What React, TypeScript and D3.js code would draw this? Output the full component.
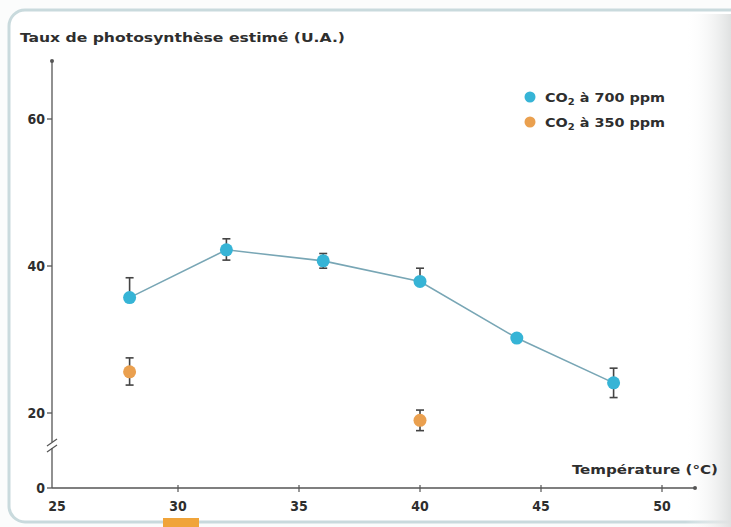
import React from "react";
import * as d3 from "d3";

// CO2 at 700 ppm
const temps700 = [28, 32, 36, 40, 44, 48];
const vals700 = [35.7, 42.2, 40.7, 37.9, 30.2, 24.1];
const errHi700 = [2.7, 1.5, 1.0, 1.8, 0.3, 2.0];
const errLo700 = [0.4, 1.4, 1.0, 0.3, 0.3, 2.0];

// CO2 at 350 ppm
const temps350 = [28, 40];
const vals350 = [25.6, 19.0];
const errHi350 = [1.9, 1.4];
const errLo350 = [1.8, 1.4];

const xTicks = [25, 30, 35, 40, 45, 50];
const yTicks = [20, 40, 60];

const W = 731;
const H = 527;
const FONT = "'Liberation Sans Narrow', 'DejaVu Sans Condensed', 'Liberation Sans', sans-serif";
const BLUE = "#36b4d6";
const ORANGE = "#eaa04f";
const INK = "#2e2e2e";

export default function App() {
  const x = d3.scaleLinear().domain([25, 50]).range([57, 662]);
  const y = d3.scaleLinear().domain([20, 60]).range([413, 119]);
  const axisX = 52;
  const axisY = 488; // position of 0 (broken axis)

  const line = d3
    .line<number>()
    .x((d, i) => x(temps700[i]))
    .y((d) => y(d));

  const errBar = (cx: number, v: number, lo: number, hi: number, key: string) => (
    <g key={key} stroke="#444" strokeWidth={1.6}>
      <line x1={cx} x2={cx} y1={y(v + hi)} y2={y(v - lo)} />
      <line x1={cx - 4} x2={cx + 4} y1={y(v + hi)} y2={y(v + hi)} />
      {lo > 0.5 && <line x1={cx - 4} x2={cx + 4} y1={y(v - lo)} y2={y(v - lo)} />}
    </g>
  );

  return (
    <svg
      width={W}
      height={H}
      style={{ position: "absolute", left: 0, top: 0 }}
      fontFamily={FONT}
    >
      <defs>
        <linearGradient id="shade" x1="0" x2="1" y1="0" y2="0">
          <stop offset="0" stopColor="#ffffff" stopOpacity={0} />
          <stop offset="1" stopColor="#dfe1e1" stopOpacity={1} />
        </linearGradient>
      </defs>
      <rect x={0} y={0} width={W} height={H} fill="#fbfcfc" />
      <rect
        x={9}
        y={10}
        width={738}
        height={512}
        rx={16}
        fill="#ffffff"
        stroke="#c9dadd"
        strokeWidth={3}
      />
      <rect x={685} y={14} width={46} height={H - 14} fill="url(#shade)" />
      <rect x={163} y={518} width={36} height={12} fill="#f0a43a" />

      {/* title */}
      <text x={20} y={42} fontSize={13} fontWeight="bold" fill={INK} textLength={325} lengthAdjust="spacingAndGlyphs">
        Taux de photosynthèse estimé (U.A.)
      </text>

      {/* y axis */}
      <line x1={axisX} x2={axisX} y1={61} y2={axisY} stroke="#555" strokeWidth={1.3} />
      <circle cx={axisX} cy={61} r={2} fill="#555" />
      {yTicks.map((t) => (
        <g key={t}>
          <line x1={axisX - 5} x2={axisX} y1={y(t)} y2={y(t)} stroke="#555" strokeWidth={1.3} />
          <text x={axisX - 7} y={y(t) + 5} fontSize={14} fontWeight="bold" fill={INK} textAnchor="end">
            {t}
          </text>
        </g>
      ))}
      <line x1={axisX - 5} x2={axisX} y1={axisY} y2={axisY} stroke="#555" strokeWidth={1.3} />
      <text x={axisX - 7} y={axisY + 5} fontSize={14} fontWeight="bold" fill={INK} textAnchor="end">
        0
      </text>
      {/* axis break */}
      <rect x={axisX - 4} y={442} width={8} height={6} fill="#fff" />
      <line x1={axisX - 5} x2={axisX + 5} y1={446} y2={439} stroke="#555" strokeWidth={1.2} />
      <line x1={axisX - 5} x2={axisX + 5} y1={452} y2={445} stroke="#555" strokeWidth={1.2} />

      {/* x axis */}
      <line x1={axisX} x2={695} y1={axisY} y2={axisY} stroke="#555" strokeWidth={1.3} />
      <circle cx={695} cy={axisY} r={2} fill="#555" />
      {xTicks.map((t) => (
        <g key={t}>
          {t !== 25 && (
            <line x1={x(t)} x2={x(t)} y1={axisY - 3} y2={axisY + 4} stroke="#555" strokeWidth={1.2} />
          )}
          <text x={x(t)} y={511} fontSize={14} fontWeight="bold" fill={INK} textAnchor="middle">
            {t}
          </text>
        </g>
      ))}
      <text x={718} y={474} fontSize={13} fontWeight="bold" fill={INK} textAnchor="end" textLength={146} lengthAdjust="spacingAndGlyphs">
        Température (°C)
      </text>

      {/* 700 ppm series */}
      <path d={line(vals700) || ""} fill="none" stroke="#78a6b5" strokeWidth={1.6} />
      {vals700.map((v, i) => errBar(x(temps700[i]), v, errLo700[i], errHi700[i], "e7" + i))}
      {vals700.map((v, i) => (
        <circle key={"p7" + i} cx={x(temps700[i])} cy={y(v)} r={6.5} fill={BLUE} />
      ))}

      {/* 350 ppm series */}
      {vals350.map((v, i) => errBar(x(temps350[i]), v, errLo350[i], errHi350[i], "e3" + i))}
      {vals350.map((v, i) => (
        <circle key={"p3" + i} cx={x(temps350[i])} cy={y(v)} r={6.5} fill={ORANGE} />
      ))}

      {/* legend */}
      <circle cx={530} cy={97} r={5.5} fill={BLUE} />
      <text x={545} y={102} fontSize={13} fontWeight="bold" fill={INK} textLength={120} lengthAdjust="spacingAndGlyphs">
        CO<tspan fontSize={9} dy={3}>2</tspan><tspan dy={-3}> à 700 ppm</tspan>
      </text>
      <circle cx={530} cy={122} r={5.5} fill={ORANGE} />
      <text x={545} y={127} fontSize={13} fontWeight="bold" fill={INK} textLength={120} lengthAdjust="spacingAndGlyphs">
        CO<tspan fontSize={9} dy={3}>2</tspan><tspan dy={-3}> à 350 ppm</tspan>
      </text>
    </svg>
  );
}
